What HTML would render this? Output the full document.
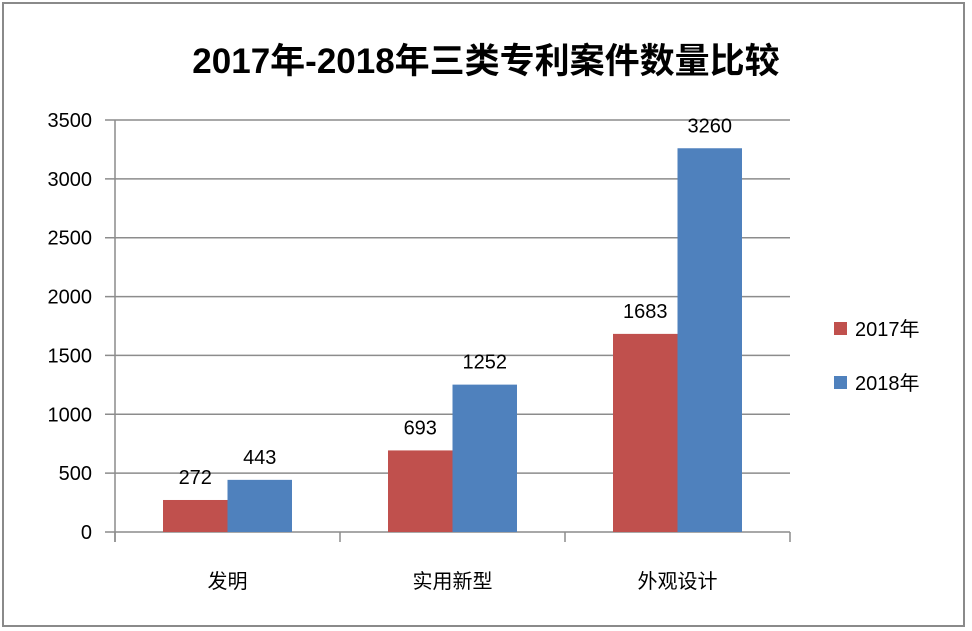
<!DOCTYPE html>
<html><head><meta charset="utf-8"><style>
html,body{margin:0;padding:0;background:#fff;}
svg{display:block;font-family:"Liberation Sans","Noto Sans CJK SC",sans-serif;}
</style></head><body>
<svg width="972" height="631" viewBox="0 0 972 631">
<rect x="3" y="3" width="961" height="623" fill="#fff" stroke="#8a8a8a" stroke-width="2"/>
<text x="486" y="73" text-anchor="middle" font-size="35" font-weight="bold" fill="#000">2017年-2018年三类专利案件数量比较</text>
<g id="plot"></g>
<g>
<rect x="834" y="322" width="13" height="13" fill="#c0504d"/>
<text x="855" y="336" font-size="20" fill="#000">2017年</text>
<rect x="834" y="376" width="13" height="13" fill="#4f81bd"/>
<text x="855" y="390" font-size="20" fill="#000">2018年</text>
</g>
</svg>
<script>
const categories=["发明","实用新型","外观设计"];
const series2017=[272,693,1683];
const series2018=[443,1252,3260];
const yTicks=[0,500,1000,1500,2000,2500,3000,3500];
const NS="http://www.w3.org/2000/svg";
const g=document.getElementById('plot');
const x0=115,x1=790,yBase=532,yTop=120,yMax=3500;
const y=v=>yBase-(v/yMax)*(yBase-yTop);
const catW=(x1-x0)/categories.length;
const barW=64.5;
function mk(t,a,txt){const e=document.createElementNS(NS,t);for(const k in a)e.setAttribute(k,a[k]);if(txt!==undefined)e.textContent=txt;g.appendChild(e);return e;}
yTicks.forEach(v=>{
 const l=mk('line',{x1:105,x2:v===0?x1:x1,y1:y(v),y2:y(v),stroke:'#8c8c8c','stroke-width':1.5});
 
 
 const t=mk('text',{x:92,y:y(v)+7,'text-anchor':'end','font-size':20,fill:'#000'},v);
 
 
});
const ax=mk('line',{x1:x0,x2:x0,y1:yTop,y2:yBase+10,stroke:'#8c8c8c','stroke-width':1.5});


for(let i=0;i<=categories.length;i++){
 const tk=mk('line',{x1:x0+i*catW,x2:x0+i*catW,y1:yBase,y2:yBase+10,stroke:'#8c8c8c','stroke-width':1.5});
 
 
}
categories.forEach((c,i)=>{
 const cx=x0+(i+0.5)*catW;
 [[series2017,'#c0504d','2017'],[series2018,'#4f81bd','2018']].forEach(([s,col,nm],j)=>{
  const bx=cx-barW+j*barW;
  const r=mk('rect',{x:bx,y:y(s[i]),width:barW,height:yBase-y(s[i]),fill:col});
  
  
  const t=mk('text',{x:bx+barW/2,y:y(s[i])-16,'text-anchor':'middle','font-size':20,fill:'#000'},s[i]);
  
  
 });
 const t=mk('text',{x:cx,y:588,'text-anchor':'middle','font-size':20,fill:'#000'},c);
 
 
});
</script>
</body></html>
